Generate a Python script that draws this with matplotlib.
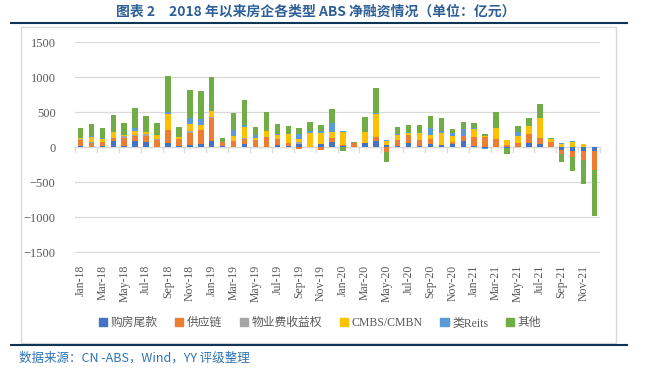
import numpy as np
import matplotlib
matplotlib.use("Agg")
import matplotlib.pyplot as plt
from matplotlib.patches import Rectangle
from matplotlib.lines import Line2D

plt.rcParams['font.family'] = ['Liberation Serif', 'Noto Sans CJK SC']

# month labels Jan-18 .. Dec-21
months = ["Jan", "Feb", "Mar", "Apr", "May", "Jun", "Jul", "Aug", "Sep", "Oct", "Nov", "Dec"]
periods = [f"{m}-{y}" for y in ["18", "19", "20", "21"] for m in months]

series_names = ["购房尾款", "供应链", "物业费收益权", "CMBS/CMBN", "类Reits", "其他"]
colors = ["#4472C4", "#ED7D31", "#A5A5A5", "#FFC000", "#5B9BD5", "#70AD47"]

# values in 亿元
gouf = [20, 0, 20, 90, 20, 90, 76, 0, 57, 19, 33, 48,
        90, 19, 0, 48, 0, 0, 33, 19, 48, 0, 48, 76,
        19, 0, 62, 90, 33, 19, 62, 19, 48, 33, 48, 90,
        19, -14, 0, -14, 0, 62, 48, 0, -33, -52, -52, -52]
gongy = [85, 62, 57, 43, 119, 76, 90, 105, 190, 100, 171, 200,
         328, 57, 90, 71, 105, 148, 86, 43, -24, 0, -38, 57,
         14, 57, 0, 57, -67, 86, 114, 86, 71, 0, 29, 71,
         128, 148, 119, 33, 62, 128, 86, 76, -57, -86, -124, -267]
wuye = [15, 20, 0, 0, 29, 14, 24, 14, 0, 0, 29, 0,
        14, 0, 0, 14, 0, 0, 0, 0, 29, 0, 0, 0,
        0, 0, 0, 0, 0, 0, 0, 0, 0, 0, 0, 0,
        0, 0, 0, 0, 0, 0, 0, 0, 0, 0, 0, 0]
cmbs = [20, 67, 43, 86, 15, 57, 29, 57, 228, 29, 100, 71,
        86, 0, 71, 157, 29, 86, 57, 128, 43, 205, 157, 86,
        186, 0, 157, 328, 57, 71, 29, 100, 57, 171, 86, 0,
        114, 14, 157, 71, 100, 114, 286, 43, 48, 76, 48, 0]
reits = [0, 15, 15, 0, 0, 38, 0, 0, 29, 0, 86, 86,
         0, 0, 86, 29, 38, 0, 14, 0, 71, 29, 29, 128,
         14, 0, 0, 14, 14, 19, 14, 0, 100, 29, 43, 100,
         14, -14, 0, 0, 57, 0, 0, 0, 14, 14, 0, 0]
other = [140, 170, 143, 243, 167, 286, 228, 171, 514, 143, 400, 400,
         486, 57, 243, 357, 119, 271, 143, 114, 86, 128, 86, 200,
         -50, 19, 214, 357, -143, 95, 100, 114, 171, 186, 57, 100,
         71, 29, 228, -80, 86, 114, 200, 14, -114, -200, -343, -657]

data = [gouf, gongy, wuye, cmbs, reits, other]

fig = plt.figure(figsize=(6.54, 3.77), dpi=100)
W, H = 654, 377

def fx(px):
    return px / W

def fy(py):
    return 1 - py / H

ax = fig.add_axes([fx(75), fy(252.5), fx(600) - fx(75), fy(42.3) - fy(252.5)])

x = np.arange(len(periods))
pos_bottom = np.zeros(len(x))
neg_bottom = np.zeros(len(x))
for name, vals, c in zip(series_names, data, colors):
    v = np.array(vals, dtype=float)
    bottom = np.where(v >= 0, pos_bottom, neg_bottom)
    ax.bar(x, v, width=0.5, bottom=bottom, color=c, label=name, zorder=3)
    pos_bottom += np.where(v > 0, v, 0)
    neg_bottom += np.where(v < 0, v, 0)

ax.set_xlim(-0.5, len(x) - 0.5)
ax.set_ylim(-1500, 1500)
ax.set_yticks(np.arange(-1500, 1501, 500))
ax.yaxis.grid(True, color="#D9D9D9", linewidth=0.9, zorder=0)
for s in ax.spines.values():
    s.set_visible(False)
ax.tick_params(axis="y", length=0, pad=14, labelsize=9, labelcolor="#595959")

# category axis at zero with ticks every two months
ax.axhline(0, color="#D9D9D9", linewidth=0.9, zorder=2)
for b in np.arange(-0.5, len(x), 2):
    ax.plot([b, b], [0, -65], color="#D9D9D9", linewidth=0.9, zorder=2, clip_on=False)

ax.set_xticks(x[::2])
ax.set_xticklabels(periods[::2], rotation=90, fontsize=8.5, color="#595959")
ax.tick_params(axis="x", length=0, pad=9)

handles = [Rectangle((0, 0), 1, 1, color=c) for c in colors]
fig.legend(handles, series_names, loc="center", bbox_to_anchor=(fx(320), fy(323)),
           ncol=6, frameon=False, fontsize=8.5, handlelength=0.7, handleheight=0.7,
           handletextpad=0.3, columnspacing=1.5, labelcolor="#595959")

# frame and rules
fig.add_artist(Rectangle((fx(21), fy(343)), fx(616) - fx(21), fy(27) - fy(343),
                         fill=False, edgecolor="#D9D9D9", linewidth=1.0))
fig.add_artist(Line2D([fx(11), fx(627)], [fy(23), fy(23)], color="#0F3556", linewidth=1.5))
fig.add_artist(Line2D([fx(11), fx(627)], [fy(345), fy(345)], color="#0F3556", linewidth=1.5))

fig.text(fx(316), fy(12), "图表 2　2018 年以来房企各类型 ABS 净融资情况（单位：亿元）",
         ha="center", va="center", fontsize=10, fontweight="bold", color="#2E5F96",
         family=["Noto Sans CJK SC", "DejaVu Sans"])
fig.text(fx(19), fy(358), "数据来源：CN -ABS，Wind，YY 评级整理",
         ha="left", va="center", fontsize=9, color="#2E74B5",
         family=["Noto Sans CJK SC", "DejaVu Sans"])

fig.savefig("out.png", dpi=100)
